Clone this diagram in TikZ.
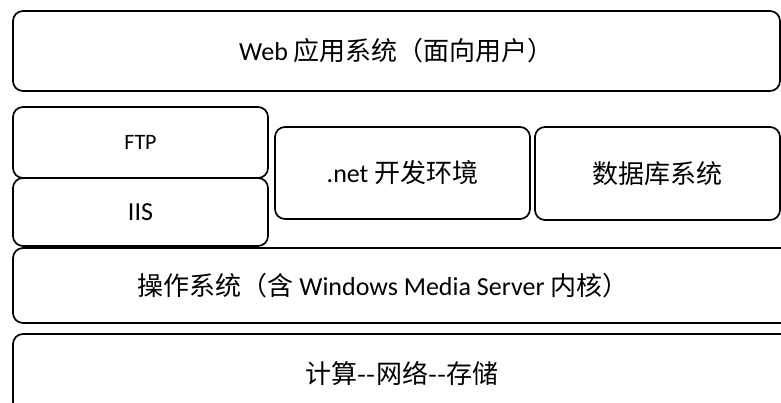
\documentclass[tikz,border=0pt]{standalone}
\usepackage{fontspec}
\setmainfont{Carlito}
\newfontfamily\zhfont{Noto Sans CJK SC}
\tikzset{layer/.style = {shape=rectangle, draw, rounded corners=10pt, line width=1.7pt,
inner sep=0pt, outer sep=0pt, font=\fontsize{26}{30}\selectfont}}
\tikzset{caption/.style = {font=\fontsize{26}{30}\selectfont, inner sep=0pt}}

\begin{document}
\begin{tikzpicture}[x=1pt,y=-1pt]
                \useasboundingbox (0,0) rectangle (781,403);

                \node[layer, minimum width=767pt, minimum height=80pt] (web) at (396.5,51) {Web {\zhfont 应用系统（面向用户）}};
                \node[layer, minimum width=255pt, minimum height=71pt, font=\fontsize{22}{26}\selectfont] (ftp) at (140.5,142.5) {FTP};
                \node[layer, minimum width=255pt, minimum height=68pt] (iis) at (140.5,212) {IIS};
                \node[layer, minimum width=255pt, minimum height=92pt] (net) at (402.5,173) {.net {\zhfont 开发环境}};
                \node[layer, minimum width=245pt, minimum height=93pt] (db) at (657.5,173.5) {\zhfont 数据库系统};

                \node[layer, minimum width=787pt, minimum height=75pt] (os) at (406.5,285.5) {};
                \node[caption] (oslabel) at (383,286) {{\zhfont 操作系统（含} Windows Media Server {\zhfont 内核）}};

                \node[layer, minimum width=778pt, minimum height=78pt] (hw) at (402,373) {\zhfont 计算--网络--存储};
            \end{tikzpicture}
\end{document}
